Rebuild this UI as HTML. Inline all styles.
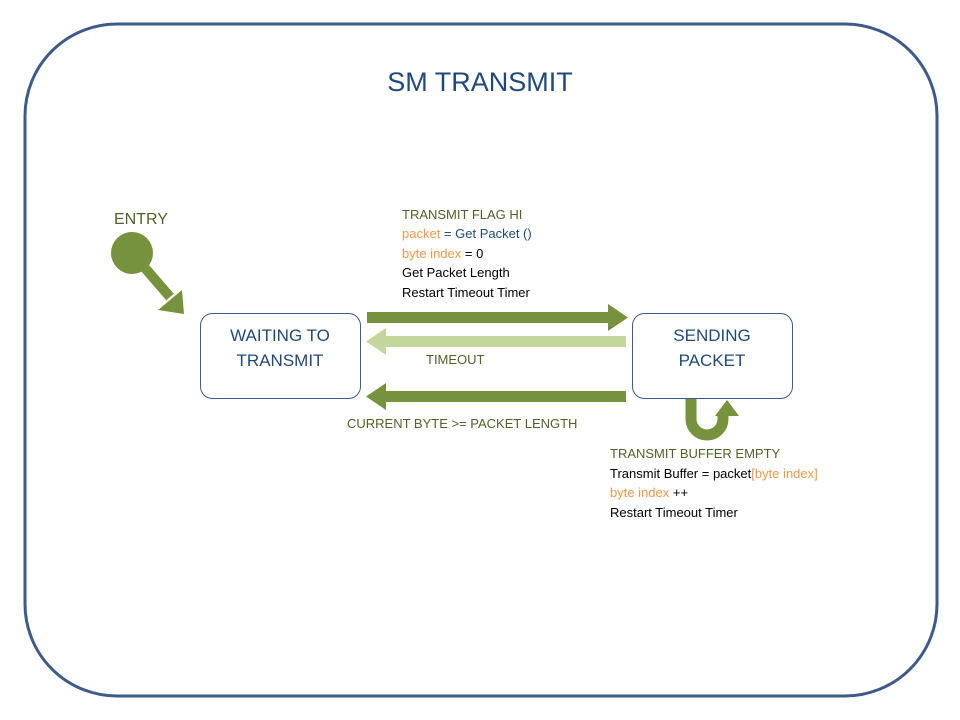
<!DOCTYPE html>
<html><head><style>
body{margin:0;background:#fff;}
svg{display:block;font-family:"Liberation Sans",sans-serif;}
</style></head><body>
<svg width="960" height="720" viewBox="0 0 960 720">
<rect x="25" y="24" width="912" height="672" rx="92" ry="92" fill="#fff" stroke="#3c5a8a" stroke-width="3"/>
<text x="480" y="91" text-anchor="middle" font-size="27" fill="#1f497d">SM TRANSMIT</text>
<rect x="200.5" y="313.5" width="160" height="85" rx="12" fill="#fff" stroke="#3c5a8a" stroke-width="1"/>
<text x="280" y="341" text-anchor="middle" font-size="17" fill="#1f497d">WAITING TO</text>
<text x="280" y="366" text-anchor="middle" font-size="17" fill="#1f497d">TRANSMIT</text>
<rect x="632.5" y="313.5" width="160" height="85" rx="12" fill="#fff" stroke="#3c5a8a" stroke-width="1"/>
<text x="712" y="341" text-anchor="middle" font-size="17" fill="#1f497d">SENDING</text>
<text x="712" y="366" text-anchor="middle" font-size="17" fill="#1f497d">PACKET</text>
<!-- entry -->
<text x="114" y="224" font-size="16" fill="#4f6228">ENTRY</text>
<circle cx="132" cy="253" r="21" fill="#76923c"/>
<line x1="132" y1="253" x2="170" y2="297" stroke="#76923c" stroke-width="10"/>
<polygon points="184,314 158,310 182,290" fill="#76923c"/>
<!-- arrows -->
<rect x="367" y="312" width="244" height="11" fill="#76923c"/>
<polygon points="608,304 628,317.5 608,331" fill="#76923c"/>
<rect x="386" y="336" width="240" height="11" fill="#c3d69b"/>
<polygon points="386,328 366,341.5 386,355" fill="#c3d69b"/>
<rect x="386" y="391" width="240" height="11" fill="#76923c"/>
<polygon points="386,383 366,396.5 386,410" fill="#76923c"/>
<!-- loop -->
<path d="M691 399 V419 A16 16 0 0 0 723 419 V412" fill="none" stroke="#76923c" stroke-width="11"/>
<polygon points="715,416 727,400 739,416" fill="#76923c"/>
<g font-size="13">
<text x="402" y="219" fill="#4f6228">TRANSMIT FLAG HI</text>
<text x="402" y="238"><tspan fill="#f79646">packet</tspan><tspan fill="#1f497d"> = Get Packet ()</tspan></text>
<text x="402" y="258"><tspan fill="#f79646">byte index</tspan><tspan fill="#000"> = 0</tspan></text>
<text x="402" y="277" fill="#000">Get Packet Length</text>
<text x="402" y="297" fill="#000">Restart Timeout Timer</text>
<text x="426" y="364" fill="#4f6228">TIMEOUT</text>
<text x="347" y="428" fill="#4f6228">CURRENT BYTE &gt;= PACKET LENGTH</text>
<text x="610" y="458" fill="#4f6228">TRANSMIT BUFFER EMPTY</text>
<text x="610" y="478"><tspan fill="#000">Transmit Buffer = packet</tspan><tspan fill="#f79646">[byte index]</tspan></text>
<text x="610" y="497"><tspan fill="#f79646">byte index</tspan><tspan fill="#000"> ++</tspan></text>
<text x="610" y="517" fill="#000">Restart Timeout Timer</text>
</g>
</svg>
</body></html>
